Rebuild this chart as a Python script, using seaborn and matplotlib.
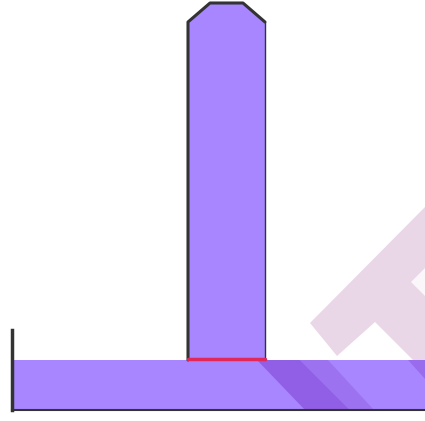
import numpy as np
import pandas as pd
import matplotlib
matplotlib.use("Agg")
import matplotlib.pyplot as plt
from matplotlib.patches import Polygon
import seaborn as sns

# values (pixels of the original picture)
part_names = ["base", "stem"]
part_lengths = [413, 357]
part_colors = ["#a886ff", "#a886ff"]
chamfer = [0.286, 19 / 357]  # top corner cut of the stem, as fraction of width / height

sns.set_theme(style="white")

W, H = 425, 421
fig = plt.figure(figsize=(W / 100, H / 100), dpi=100)
fig.patch.set_facecolor("white")

# watermark shapes in the background
bg = fig.add_axes([0, 0, 1, 1])
bg.set_xlim(0, W)
bg.set_ylim(H, 0)
bg.axis("off")
bg.add_patch(Polygon([(310, 323), (425, 207), (425, 360), (413, 360), (375, 322), (337, 356)],
                     closed=True, color="#e6d0e5", alpha=0.85, lw=0))
bg.add_patch(Polygon([(411, 282), (425, 268), (425, 296)],
                     closed=True, color="white", alpha=0.8, lw=0))

# base bar
base_df = pd.DataFrame({"part": [part_names[0]], "length": [part_lengths[0]]})
ax_base = fig.add_axes([12 / W, (H - 410) / H, (W - 12) / W, 80 / H])
ax_base.patch.set_alpha(0)
sns.barplot(data=base_df, x="length", y="part", orient="h", color=part_colors[0],
            width=1, saturation=1, ax=ax_base, linewidth=0)
ax_base.set_xlim(0, part_lengths[0])
ax_base.set_ylim(0.5, -1.1)
ax_base.set_xlabel("")
ax_base.set_ylabel("")
ax_base.set_xticks([])
ax_base.set_yticks([])
for s in ["top", "right"]:
    ax_base.spines[s].set_visible(False)
ax_base.spines["left"].set_color("#333333")
ax_base.spines["left"].set_linewidth(2.5)
ax_base.spines["bottom"].set_color("#333333")
ax_base.spines["bottom"].set_linewidth(1.5)

# darker diagonal bands over the base
ax_base.add_patch(Polygon([(245, -0.5), (288, -0.5), (338, 0.5), (293, 0.5)],
                          closed=True, color="#8a56df", alpha=0.8, lw=0))
ax_base.add_patch(Polygon([(288, -0.5), (316, -0.5), (362, 0.5), (338, 0.5)],
                          closed=True, color="#9666e8", alpha=0.6, lw=0))
ax_base.add_patch(Polygon([(396, -0.5), (413, -0.5), (413, -0.12)],
                          closed=True, color="#9462e6", alpha=0.7, lw=0))

# stem bar
stem_df = pd.DataFrame({"part": [part_names[1]], "length": [part_lengths[1]]})
ax_stem = fig.add_axes([188 / W, (H - 360) / H, 77 / W, part_lengths[1] / H])
ax_stem.patch.set_alpha(0)
sns.barplot(data=stem_df, x="part", y="length", color=part_colors[1],
            width=1, saturation=1, ax=ax_stem, linewidth=0)
ax_stem.set_xlim(-0.5, 0.5)
ax_stem.set_ylim(0, part_lengths[1])
ax_stem.axis("off")
cx, cy = chamfer
outline = [(0, 0), (0, 1 - cy), (cx, 1), (1 - cx, 1), (1, 1 - cy), (1, 0)]
clip = Polygon(outline, closed=True, transform=ax_stem.transAxes)
for p in ax_stem.patches:
    p.set_clip_path(clip)
xs, ys = zip(*outline)
ax_stem.plot(xs[:5], ys[:5], color="#333333", lw=2.2, transform=ax_stem.transAxes,
             clip_on=False, solid_joinstyle="round")
ax_stem.plot(xs[4:], ys[4:], color="#333333", lw=1.0, transform=ax_stem.transAxes,
             clip_on=False)
ax_stem.plot([0, 1], [0.004, 0.004], color="#e1285a", lw=2.5,
             transform=ax_stem.transAxes, clip_on=False)

fig.savefig("out.png", dpi=100, facecolor="white")
